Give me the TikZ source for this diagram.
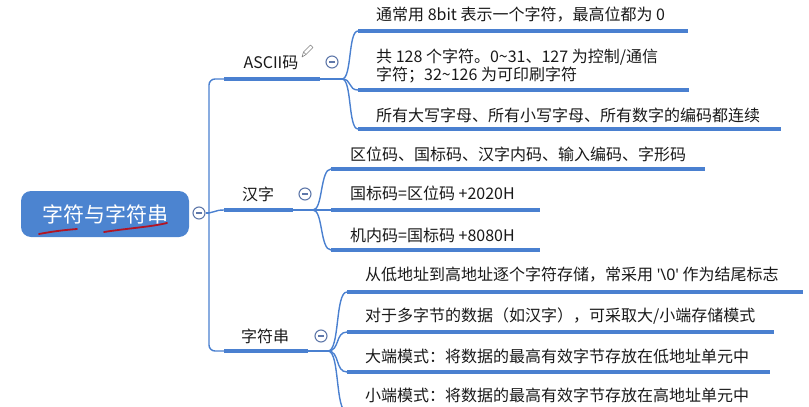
\documentclass[tikz,border=0pt]{standalone}
\usepackage{fontspec}
\setmainfont{Noto Sans CJK SC}
\newfontfamily\latfont{Noto Sans}
\definecolor{lineblue}{RGB}{74,128,208}
\definecolor{rootblue}{RGB}{76,132,208}
\definecolor{txt}{RGB}{25,25,25}
\definecolor{mgray}{RGB}{95,120,170}
\definecolor{redmark}{RGB}{178,20,35}
\tikzset{
  ul/.style={line width=4pt, draw=lineblue},
  conn/.style={line width=1.4pt, draw=lineblue},
  leaf/.style={anchor=west, inner sep=0pt, text=txt, font=\fontsize{16}{18}\selectfont, align=left},
  branch/.style={inner sep=0pt, text=txt, font=\fontsize{16}{18}\selectfont},
  minusc/.style={circle, draw=mgray, line width=1.1pt, fill=white, minimum size=12pt, inner sep=0pt,
    path picture={\draw[mgray, line width=1.2pt] ([xshift=-3pt]path picture bounding box.center) -- ([xshift=3pt]path picture bounding box.center);}},
  rootbox/.style={rectangle, rounded corners=10pt, fill=rootblue, minimum width=168pt, minimum height=46pt, text=white, font=\fontsize{21}{24}\selectfont, inner sep=0pt}
}
\begin{document}
\begin{tikzpicture}[x=1pt,y=-1pt]
\useasboundingbox (0,0) rectangle (809,407);
\clip (0,0) rectangle (809,407);
% root
\node[rootbox] (root) at (105,214) {字符与字符串};
\node[minusc] (rootc) at (199,213) {};
\draw[redmark, line width=1.8pt, line cap=round] (39,234) .. controls (55,231) and (65,230) .. (77,229);
\draw[redmark, line width=1.8pt, line cap=round] (104,232) .. controls (130,228) and (150,227) .. (167,223);
% trunk
\coordinate (J) at (209,213);
\coordinate (a1s) at (224,79);
\coordinate (a1e) at (320,79);
\coordinate (h1s) at (224,210);
\coordinate (h1e) at (293,210);
\coordinate (z1s) at (224,351);
\coordinate (z1e) at (308,351);
\draw[conn] (rootc.east) -- (J);
\draw[conn, rounded corners=6pt] (a1s) -- (209,79) -- (209,351) -- (z1s);
\draw[conn] (J) .. controls (214,213) and (214,210) .. (h1s);
% branch labels
\node[branch] (ascii) at (271,63) {ASCII码};
\node[branch] (hz) at (258,194) {汉字};
\node[branch] (zfc) at (265,336) {字符串};
\node[minusc] (ac) at (332,62) {};
\node[minusc] (hc) at (305,194) {};
\node[minusc] (zc) at (321,336) {};
% pencil icon
\draw[gray, line width=0.6pt, line join=round] (302,57) -- (303.5,52) -- (310.5,45) -- (313,47.5) -- (306,54.5) -- cycle;
\draw[gray, line width=0.6pt] (303.5,52) -- (306,54.5);
% branch underlines
\draw[ul] (a1s) -- (a1e);
\draw[ul] (h1s) -- (h1e);
\draw[ul] (z1s) -- (z1e);
% ---- ASCII leaves
\coordinate (aP) at (342,79);
\draw[conn] (a1e) -- (aP);
\coordinate (a2s) at (358,31);  \coordinate (a2e) at (688,31);
\coordinate (a3s) at (358,90);  \coordinate (a3e) at (689,90);
\coordinate (a4s) at (358,129); \coordinate (a4e) at (781,129);
\draw[conn] (aP) .. controls (352,79) and (348,31) .. (a2s);
\draw[conn] (aP) .. controls (352,79) and (348,90) .. (a3s);
\draw[conn] (aP) .. controls (352,79) and (348,129) .. (a4s);
\draw[ul] (a2s) -- (a2e);
\draw[ul] (a3s) -- (a3e);
\draw[ul] (a4s) -- (a4e);
\node[leaf] (al1) at (376,15) {通常用 8bit 表示一个字符，最高位都为 0};
\node[leaf] (al2) at (376,66) {共 128 个字符。0\textasciitilde 31、127 为控制/通信\\字符；32\textasciitilde 126 为可印刷字符};
\node[leaf] (al3) at (376,115) {所有大写字母、所有小写字母、所有数字的编码都连续};
% ---- Hanzi leaves
\coordinate (hP) at (313,210);
\draw[conn] (h1e) -- (hP);
\coordinate (h2s) at (331,169); \coordinate (h2e) at (705,169);
\coordinate (h3s) at (331,210); \coordinate (h3e) at (540,210);
\coordinate (h4s) at (331,250); \coordinate (h4e) at (540,250);
\draw[conn] (hP) .. controls (323,210) and (320,169) .. (h2s);
\draw[conn] (hP) -- (h3s);
\draw[conn] (hP) .. controls (323,210) and (320,250) .. (h4s);
\draw[ul] (h2s) -- (h2e);
\draw[ul] (h3s) -- (h3e);
\draw[ul] (h4s) -- (h4e);
\node[leaf] (hl1) at (350,154) {区位码、国标码、汉字内码、输入编码、字形码};
\node[leaf] (hl2) at (350,193) {国标码=区位码 +2020H};
\node[leaf] (hl3) at (350,235) {机内码=国标码 +8080H};
% ---- String leaves
\coordinate (zP) at (328,351);
\draw[conn] (z1e) -- (zP);
\coordinate (z2s) at (347,292); \coordinate (z2e) at (803,292);
\coordinate (z3s) at (347,332); \coordinate (z3e) at (774,332);
\coordinate (z4s) at (347,372); \coordinate (z4e) at (770,372);
\coordinate (z5s) at (347,412); \coordinate (z5e) at (770,412);
\draw[conn] (zP) .. controls (340,351) and (335,292) .. (z2s);
\draw[conn] (zP) .. controls (340,351) and (335,332) .. (z3s);
\draw[conn] (zP) .. controls (340,351) and (335,372) .. (z4s);
\draw[conn] (zP) .. controls (340,351) and (335,412) .. (z5s);
\draw[ul] (z2s) -- (z2e);
\draw[ul] (z3s) -- (z3e);
\draw[ul] (z4s) -- (z4e);
\draw[ul] (z5s) -- (z5e);
\node[leaf] (zl1) at (365,275) {从低地址到高地址逐个字符存储，常采用 {\latfont\symbol{39}\textbackslash 0\symbol{39}} 作为结尾标志};
\node[leaf] (zl2) at (365,316) {对于多字节的数据（如汉字），可采取大/小端存储模式};
\node[leaf] (zl3) at (365,356) {大端模式：将数据的最高有效字节存放在低地址单元中};
\node[leaf] (zl4) at (365,395) {小端模式：将数据的最高有效字节存放在高地址单元中};
\end{tikzpicture}
\end{document}
